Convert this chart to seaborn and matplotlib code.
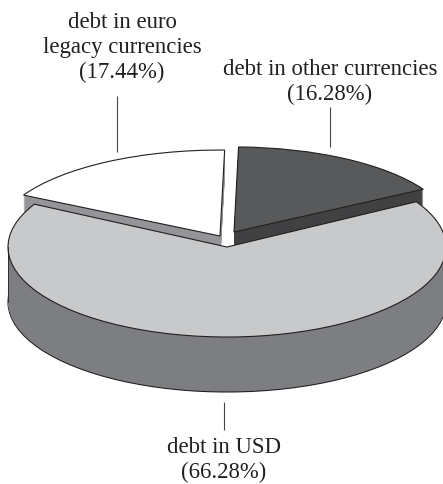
import matplotlib
matplotlib.use("Agg")
import matplotlib.pyplot as plt
from matplotlib.transforms import Affine2D
import seaborn as sns

# shares in pie order, counter-clockwise from the right edge
categories = ["debt in other currencies", "debt in euro\nlegacy currencies", "debt in USD"]
shares = [16.28, 17.44, 66.28]

top_colors = ["#58595b", "#ffffff", "#c8c9cb"]
side_colors = ["#414042", "#939598", "#7d7e82"]
edge_color = "#231f20"

# picture size and where the big ellipse sits, in pixels
W, H = 443, 484
CX, CY, RX, RY = 227, 247, 219, 90
DEPTH = 55       # wall of the big slice
THIN_DEPTH = 30  # walls of the two small slices, mostly hidden
START = 30.2


def px(x, y):
    return (x - CX) / RX, (CY - y) / RY


sns.set_theme(style="white")
plt.rcParams["font.family"] = ["Liberation Serif", "DejaVu Serif"]

fig = plt.figure(figsize=(W / 100, H / 100), dpi=100)
ax = fig.add_axes([0, 0, 1, 1])


def pie_layer(index, color, dx=0, dy=0, edge="none", lw=0.0, sx=1, sy=1):
    # one full pie is laid out, only the slice with this index stays visible
    colors = ["none"] * len(shares)
    colors[index] = color
    wedges, _ = ax.pie(shares, startangle=START, colors=colors, radius=1)
    for i, w in enumerate(wedges):
        if i != index:
            w.remove()
            continue
        w.set_center((dx / RX / sx, -dy / RY / sy))
        w.set_transform(Affine2D().scale(sx, sy) + ax.transData)
        w.set_edgecolor(edge)
        w.set_linewidth(lw)


# small slices are pulled out of the pie, by their own offset and a bit flatter
offsets = {0: (7, -15, 1.0, 0.945), 1: (-7, -11, 1.02, 0.955)}
for i, (ox, oy, sx, sy) in offsets.items():
    for d in range(THIN_DEPTH, 0, -1):
        pie_layer(i, side_colors[i], ox, oy + d, sx=sx, sy=sy)
    pie_layer(i, top_colors[i], ox, oy, edge_color, 0.8, sx, sy)

# big slice: stacked copies make the wall
pie_layer(2, side_colors[2], 0, DEPTH, edge_color, 0.8)
for d in range(DEPTH - 1, 0, -1):
    pie_layer(2, side_colors[2], 0, d)
ax.plot([-1, -1], [0, -DEPTH / RY], color=edge_color, lw=0.6)
pie_layer(2, top_colors[2], 0, 0, edge_color, 0.8)

# leader lines
for x, y0, y1 in [(117, 96, 152), (330, 107, 147), (224, 402, 430)]:
    x0, ya = px(x, y0)
    _, yb = px(x, y1)
    ax.plot([x0, x0], [ya, yb], color="#444444", lw=0.8, solid_capstyle="butt")

# labels
label_pos = [(330, 82), (122, 47.5), (224, 460)]
for name, share, (x, y) in zip(categories, shares, label_pos):
    tx, ty = px(x, y)
    ax.text(tx, ty, f"{name}\n({share:.2f}%)", ha="center", va="center",
            fontsize=16.4, linespacing=1.24, color="#231f20")

ax.set_aspect("auto")
ax.set_xlim(px(0, 0)[0], px(W, 0)[0])
ax.set_ylim(px(0, H)[1], px(0, 0)[1])
ax.axis("off")

fig.savefig("out.png", dpi=100, facecolor="white")
